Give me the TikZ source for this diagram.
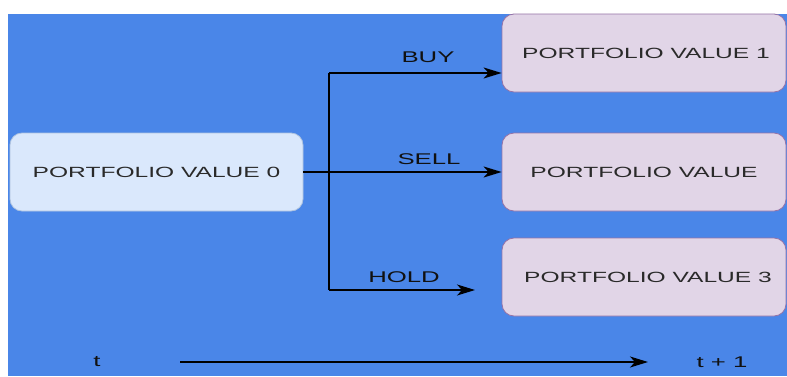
\documentclass[tikz,border=0pt]{standalone}
\usepackage{fontspec}
\setmainfont{Liberation Sans}
\newfontfamily\widefont[FakeStretch=1.66]{Liberation Sans}
\usetikzlibrary{arrows.meta}
\definecolor{bgblue}{HTML}{4A86E8}
\definecolor{startfill}{HTML}{DAE8FC}
\definecolor{startline}{HTML}{AFC3DF}
\definecolor{endfill}{HTML}{E1D5E7}
\definecolor{endline}{HTML}{9673A6}
\definecolor{boxtext}{HTML}{2A2A2A}
\definecolor{lbltext}{HTML}{111111}
\begin{document}
\begin{tikzpicture}[x=1pt,y=-1pt,
  box/.style={draw, rounded corners=12pt, line width=0.8pt, minimum height=78pt,
    inner sep=0pt, font=\widefont\fontsize{14.8}{17}\selectfont, text=boxtext},
  startbox/.style={box, fill=startfill, draw=startline, minimum width=293pt},
  endbox/.style={box, fill=endfill, draw=endline, minimum width=284pt},
  lbl/.style={font=\widefont\fontsize{15.5}{18}\selectfont, text=lbltext, inner sep=1pt},
  conn/.style={line width=1.5pt, draw=black},
  arr/.style={conn, -{Stealth[length=18pt,width=11pt,inset=5pt]}}]
\useasboundingbox (0,0) rectangle (787,376);
\fill[white] (0,0) rectangle (787,376);
\fill[bgblue] (8,14) rectangle (787,376);

\node[startbox] (b0) at (156.5,172) {PORTFOLIO VALUE 0};
\node[endbox] (b1) at (644,53) {\hspace{4pt}PORTFOLIO VALUE 1};
\node[endbox] (b2) at (644,172) {PORTFOLIO VALUE};
\node[endbox] (b3) at (644,277) {\hspace{8pt}PORTFOLIO VALUE 3};

\coordinate (jtop) at (329,73);
\coordinate (jbot) at (329,290);
\coordinate (holdend) at (475,290);
\coordinate (ts) at (180,362);
\coordinate (te) at (648,362);

\draw[conn] (jtop) -- (jbot);
\draw[arr] (b0.east) -- (b2.west);
\draw[arr] (jtop) -- (jtop -| b1.west);
\draw[arr] (jbot) -- (holdend);
\draw[arr] (ts) -- (te);

\node[lbl] (buy) at (428,57) {BUY};
\node[lbl] (sell) at (429,159) {SELL};
\node[lbl] (hold) at (404,277) {HOLD};
\node[lbl] (t0) at (97,362) {t};
\node[lbl] (t1) at (722,362) {t + 1};
\end{tikzpicture}
\end{document}
